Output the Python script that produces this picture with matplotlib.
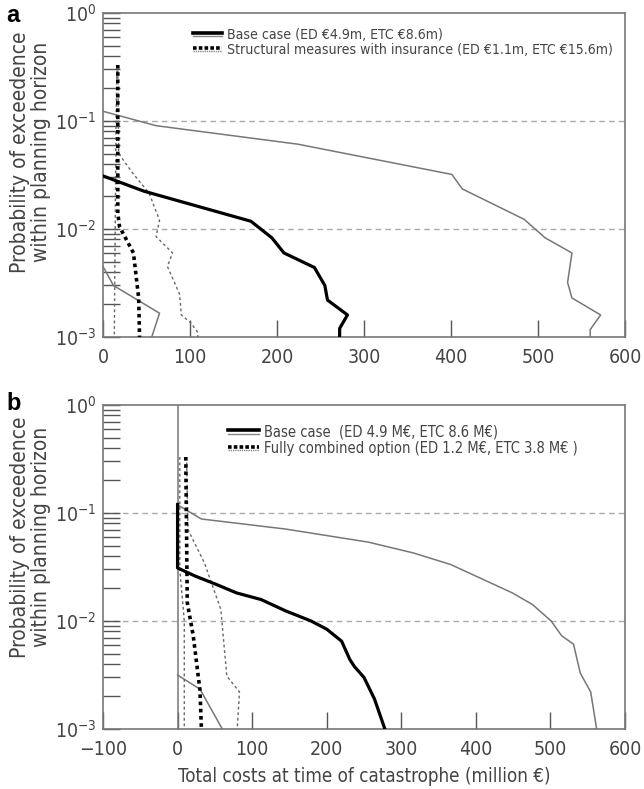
import matplotlib
matplotlib.use("Agg")
import matplotlib.pyplot as plt
from matplotlib.lines import Line2D
from matplotlib.legend_handler import HandlerBase
from matplotlib.ticker import LogLocator, NullFormatter

plt.rcParams['font.family'] = ['DejaVu Sans']
plt.rcParams['font.stretch'] = 'condensed'
plt.rcParams['text.color'] = '#444444'
plt.rcParams['axes.labelcolor'] = '#444444'
plt.rcParams['xtick.color'] = '#555555'
plt.rcParams['ytick.color'] = '#555555'
plt.rcParams['xtick.labelcolor'] = '#444444'
plt.rcParams['ytick.labelcolor'] = '#444444'

# ---------------- Panel a data ----------------
a_base_upper_x = [0, 61, 224, 401, 413, 484, 508, 539, 534, 539, 572, 560, 560]
a_base_upper_p = [0.123, 0.0905, 0.061, 0.032, 0.0235, 0.0123, 0.0083, 0.006, 0.0032, 0.0023, 0.0016, 0.00117, 0.001]
a_base_med_x = [0, 47, 170, 194, 208, 243, 255, 258, 281, 272, 272]
a_base_med_p = [0.031, 0.0224, 0.0118, 0.0083, 0.006, 0.0044, 0.003, 0.0022, 0.0016, 0.0012, 0.001]
a_base_low_x = [0, 12, 65, 56]
a_base_low_p = [0.0045, 0.003, 0.00166, 0.001]
a_opt_med_x = [17, 17, 19, 35, 41, 42]
a_opt_med_p = [0.33, 0.014, 0.0105, 0.006, 0.0023, 0.001]
a_opt_upper_x = [17, 18, 34, 53, 65, 61, 80, 74, 88, 90, 101, 109, 109]
a_opt_upper_p = [0.33, 0.05, 0.033, 0.0215, 0.012, 0.0085, 0.006, 0.0045, 0.0025, 0.0016, 0.00135, 0.0011, 0.001]
a_opt_low_x = [16, 15, 14, 13]
a_opt_low_p = [0.33, 0.1, 0.01, 0.001]

# ---------------- Panel b data ----------------
b_base_upper_x = [0, 32, 145, 256, 316, 366, 449, 476, 501, 515, 531, 540, 554, 562]
b_base_upper_p = [0.119, 0.088, 0.071, 0.0537, 0.0427, 0.0334, 0.0182, 0.0142, 0.01, 0.0073, 0.0061, 0.0033, 0.0022, 0.001]
b_base_med_x = [0, 0, 24, 52, 79, 112, 145, 179, 200, 220, 231, 237, 250, 264, 278]
b_base_med_p = [0.12, 0.031, 0.026, 0.0218, 0.0182, 0.0158, 0.0124, 0.01, 0.0084, 0.0065, 0.0044, 0.0038, 0.003, 0.0019, 0.001]
b_base_low_x = [0, 30, 60]
b_base_low_p = [0.00316, 0.00234, 0.001]
b_opt_med_x = [11, 13, 21, 30, 32]
b_opt_med_p = [0.33, 0.0148, 0.0073, 0.0023, 0.001]
b_opt_upper_x = [12, 14, 36, 58, 66, 83, 80]
b_opt_upper_p = [0.33, 0.07, 0.0345, 0.0128, 0.0031, 0.0022, 0.001]
b_opt_low_x = [3, 3, 9, 9]
b_opt_low_p = [0.33, 0.03, 0.01, 0.001]

a_labels = ['Base case (ED €4.9m, ETC €8.6m)',
            'Structural measures with insurance (ED €1.1m, ETC €15.6m)']
b_labels = ['Base case  (ED 4.9 M€, ETC 8.6 M€)',
            'Fully combined option (ED 1.2 M€, ETC 3.8 M€ )']

ylabel = 'Probability of exceedence\nwithin planning horizon'
xlabel = 'Total costs at time of catastrophe (million €)'

GREY = '#777777'


class DoubleHandler(HandlerBase):
    def __init__(self, ls):
        super().__init__()
        self.ls = ls

    def create_artists(self, legend, orig_handle, xdescent, ydescent,
                       width, height, fontsize, trans):
        x0, x1 = -xdescent, -xdescent + width
        y_top = -ydescent + height * 0.60
        y_bot = -ydescent + height * 0.26
        top = Line2D([x0, x1], [y_top, y_top], color='black', lw=2.6,
                     linestyle=self.ls, transform=trans)
        bot = Line2D([x0, x1], [y_bot, y_bot], color='#888888', lw=1.0,
                     linestyle=self.ls, transform=trans)
        return [top, bot]


fig = plt.figure(figsize=(6.44, 7.89), dpi=100)
W, H = 644, 789


def make_axes(top_px, bottom_px):
    left, right = 103, 625
    return fig.add_axes([left / W, 1 - bottom_px / H, (right - left) / W,
                         (bottom_px - top_px) / H])


def style(ax, xlim, label_y):
    ax.set_yscale('log')
    ax.set_ylim(1e-3, 1)
    ax.set_xlim(*xlim)
    for s in ax.spines.values():
        s.set_color(GREY)
        s.set_linewidth(1.2)
    ax.yaxis.set_major_locator(LogLocator(base=10, numticks=10))
    ax.yaxis.set_minor_locator(LogLocator(base=10, subs=range(2, 10), numticks=20))
    ax.yaxis.set_minor_formatter(NullFormatter())
    ax.tick_params(axis='both', which='major', direction='in', length=12,
                   width=1.0, labelsize=14)
    ax.tick_params(axis='x', which='major', pad=8)
    ax.tick_params(axis='y', which='major', pad=5)
    ax.tick_params(axis='y', which='minor', direction='in', length=12, width=1.0)
    ax.tick_params(top=False, right=False)
    for p in (0.1, 0.01):
        ax.axhline(p, color='#aaaaaa', lw=1.0, ls=(0, (4, 3)), zorder=1)
    ax.set_ylabel(ylabel, fontsize=15, linespacing=1.05)
    ax.yaxis.set_label_coords(-0.1, label_y)


def draw(ax, data):
    (bu, bm, bl, om, ou, ol) = data
    ax.plot(*bu, color=GREY, lw=1.1, zorder=3)
    ax.plot(*bl, color=GREY, lw=1.1, zorder=3)
    ax.plot(*bm, color='black', lw=2.3, zorder=4)
    ax.plot(*ou, color='#666666', lw=1.0, ls=(0, (2, 2)), zorder=3)
    ax.plot(*ol, color='#666666', lw=1.0, ls=(0, (2, 2)), zorder=3)
    ax.plot(*om, color='black', lw=2.6, ls=(0, (1, 1)), zorder=4)


def add_legend(ax, labels, anchor, fs):
    hs = [Line2D([], [], color='black'), Line2D([], [], color='black')]
    leg = ax.legend(hs, labels, loc='upper left', bbox_to_anchor=anchor,
                    frameon=False, fontsize=fs, handlelength=2.1, handletextpad=0.35,
                    labelspacing=0.1, borderpad=0.0, borderaxespad=0.0,
                    handler_map={hs[0]: DoubleHandler('-'),
                                 hs[1]: DoubleHandler((0, (1, 0.6)))})
    for t in leg.get_texts():
        t.set_color('#444444')


ax_a = make_axes(13, 337)
style(ax_a, (0, 600), (337 - 152) / 324)
draw(ax_a, [(a_base_upper_x, a_base_upper_p), (a_base_med_x, a_base_med_p),
            (a_base_low_x, a_base_low_p), (a_opt_med_x, a_opt_med_p),
            (a_opt_upper_x, a_opt_upper_p), (a_opt_low_x, a_opt_low_p)])
add_legend(ax_a, a_labels, (0.172, 0.955), 10.1)

ax_b = make_axes(405, 729)
style(ax_b, (-100, 600), (729 - 537) / 324)
ax_b.axvline(0, color=GREY, lw=1.1, zorder=2)
draw(ax_b, [(b_base_upper_x, b_base_upper_p), (b_base_med_x, b_base_med_p),
            (b_base_low_x, b_base_low_p), (b_opt_med_x, b_opt_med_p),
            (b_opt_upper_x, b_opt_upper_p), (b_opt_low_x, b_opt_low_p)])
add_legend(ax_b, b_labels, (0.2395, 0.94), 10.5)
ax_b.set_xlabel(xlabel, fontsize=13.5, labelpad=6)

fig.text(6 / W, 1 - 4 / H, 'a', fontsize=17, fontweight='bold', color='black',
         va='top', ha='left', family=['Liberation Sans', 'DejaVu Sans'], stretch='normal')
fig.text(6 / W, 1 - 392 / H, 'b', fontsize=17, fontweight='bold', color='black',
         va='top', ha='left', family=['Liberation Sans', 'DejaVu Sans'], stretch='normal')

fig.savefig('out.png', dpi=100)
